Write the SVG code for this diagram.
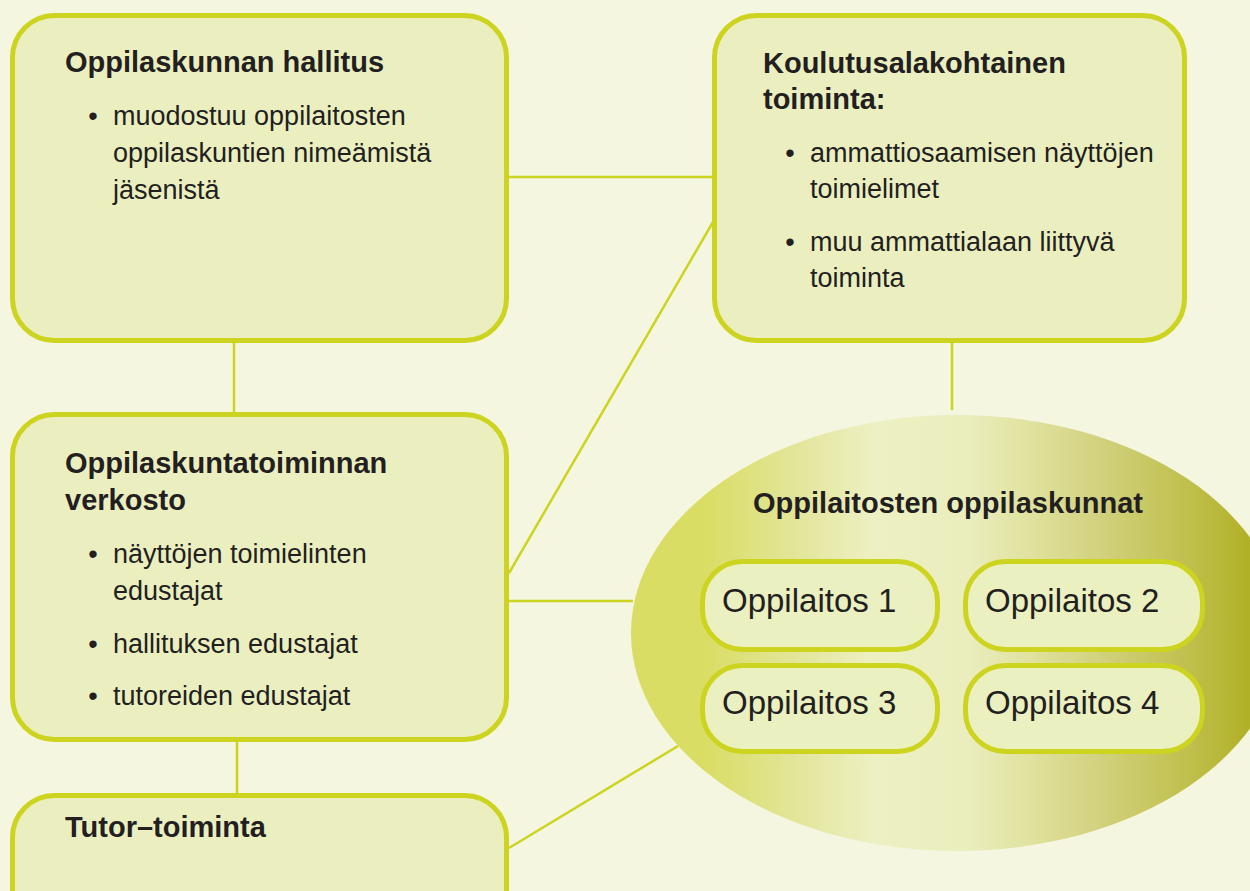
<svg xmlns="http://www.w3.org/2000/svg" width="1250" height="891" viewBox="0 0 1250 891">
<defs>
<linearGradient id="ellGrad" gradientUnits="userSpaceOnUse" x1="631" y1="0" x2="1285" y2="0">
<stop offset="0" stop-color="#D9DD63"/>
<stop offset="0.11" stop-color="#D9DD63"/>
<stop offset="0.26" stop-color="#E3E69C"/>
<stop offset="0.37" stop-color="#EDF0C2"/>
<stop offset="0.52" stop-color="#EAEDBC"/>
<stop offset="0.61" stop-color="#E0E29E"/>
<stop offset="0.72" stop-color="#D1D17D"/>
<stop offset="0.85" stop-color="#C0C04E"/>
<stop offset="0.95" stop-color="#B0B025"/>
<stop offset="1" stop-color="#AAAA1E"/>
</linearGradient>
<style>
.box{fill:#EBEFC0;stroke:#CDD41F;stroke-width:5}
.sbox{fill:#EBF0C0;stroke:#CDD41F;stroke-width:5}
.conn{stroke:#CDD41F;stroke-width:2.5;fill:none}
.title{font-family:"Liberation Sans",Arial,sans-serif;font-weight:bold;font-size:29px;fill:#231F20}
.body{font-family:"Liberation Sans",Arial,sans-serif;font-size:27px;fill:#231F20}
.bul{font-family:"Liberation Sans",Arial,sans-serif;font-size:27px;fill:#231F20;text-anchor:middle}
.lab{font-family:"Liberation Sans",Arial,sans-serif;font-size:33px;fill:#231F20}
</style>
</defs>
<rect x="0" y="0" width="1250" height="891" fill="#F4F6E0"/>

<g id="connectors">
<line class="conn" x1="507" y1="177" x2="713" y2="177"/>
<line class="conn" x1="509" y1="573" x2="713" y2="222"/>
<line class="conn" x1="507" y1="601" x2="633" y2="601"/>
<line class="conn" x1="509" y1="848" x2="678" y2="746"/>
<line class="conn" x1="234" y1="342" x2="234" y2="413"/>
<line class="conn" x1="237" y1="741" x2="237" y2="795"/>
<line class="conn" x1="952" y1="342" x2="952" y2="410"/>
</g>

<g id="node-hallitus">
<rect class="box" x="12.5" y="15.5" width="494" height="325" rx="42" ry="42"/>
<text class="title" x="65" y="72">Oppilaskunnan hallitus</text>
<text class="bul" x="93" y="125">•</text>
<text class="body" x="113" y="125">muodostuu oppilaitosten</text>
<text class="body" x="113" y="162">oppilaskuntien nimeämistä</text>
<text class="body" x="113" y="199">jäsenistä</text>
</g>

<g id="node-koulutusala">
<rect class="box" x="714.5" y="15.5" width="470" height="325" rx="42" ry="42"/>
<text class="title" x="763" y="73">Koulutusalakohtainen</text>
<text class="title" x="763" y="109">toiminta:</text>
<text class="bul" x="790" y="162">•</text>
<text class="body" x="810" y="162">ammattiosaamisen näyttöjen</text>
<text class="body" x="810" y="198">toimielimet</text>
<text class="bul" x="790" y="251">•</text>
<text class="body" x="810" y="251">muu ammattialaan liittyvä</text>
<text class="body" x="810" y="287">toiminta</text>
</g>

<g id="node-verkosto">
<rect class="box" x="12.5" y="414.5" width="494" height="325" rx="42" ry="42"/>
<text class="title" x="65" y="473">Oppilaskuntatoiminnan</text>
<text class="title" x="65" y="510">verkosto</text>
<text class="bul" x="93" y="563">•</text>
<text class="body" x="113" y="563">näyttöjen toimielinten</text>
<text class="body" x="113" y="600">edustajat</text>
<text class="bul" x="93" y="653">•</text>
<text class="body" x="113" y="653">hallituksen edustajat</text>
<text class="bul" x="93" y="705">•</text>
<text class="body" x="113" y="705">tutoreiden edustajat</text>
</g>

<g id="node-tutor">
<rect class="box" x="12.5" y="795.5" width="494" height="140" rx="42" ry="42"/>
<text class="title" x="65" y="837">Tutor–toiminta</text>
</g>

<g id="node-oppilaskunnat">
<ellipse cx="957" cy="633" rx="326" ry="218" fill="url(#ellGrad)"/>
<text class="title" x="948" y="513" text-anchor="middle">Oppilaitosten oppilaskunnat</text>
</g>

<g id="node-oppilaitos1">
<rect class="sbox" x="702.5" y="561.5" width="235" height="88" rx="40" ry="40"/>
<text class="lab" x="722" y="612">Oppilaitos 1</text>
</g>
<g id="node-oppilaitos2">
<rect class="sbox" x="965.5" y="561.5" width="237" height="88" rx="40" ry="40"/>
<text class="lab" x="985" y="612">Oppilaitos 2</text>
</g>
<g id="node-oppilaitos3">
<rect class="sbox" x="702.5" y="665.5" width="235" height="86" rx="40" ry="40"/>
<text class="lab" x="722" y="714">Oppilaitos 3</text>
</g>
<g id="node-oppilaitos4">
<rect class="sbox" x="965.5" y="665.5" width="237" height="86" rx="40" ry="40"/>
<text class="lab" x="985" y="714">Oppilaitos 4</text>
</g>
</svg>
